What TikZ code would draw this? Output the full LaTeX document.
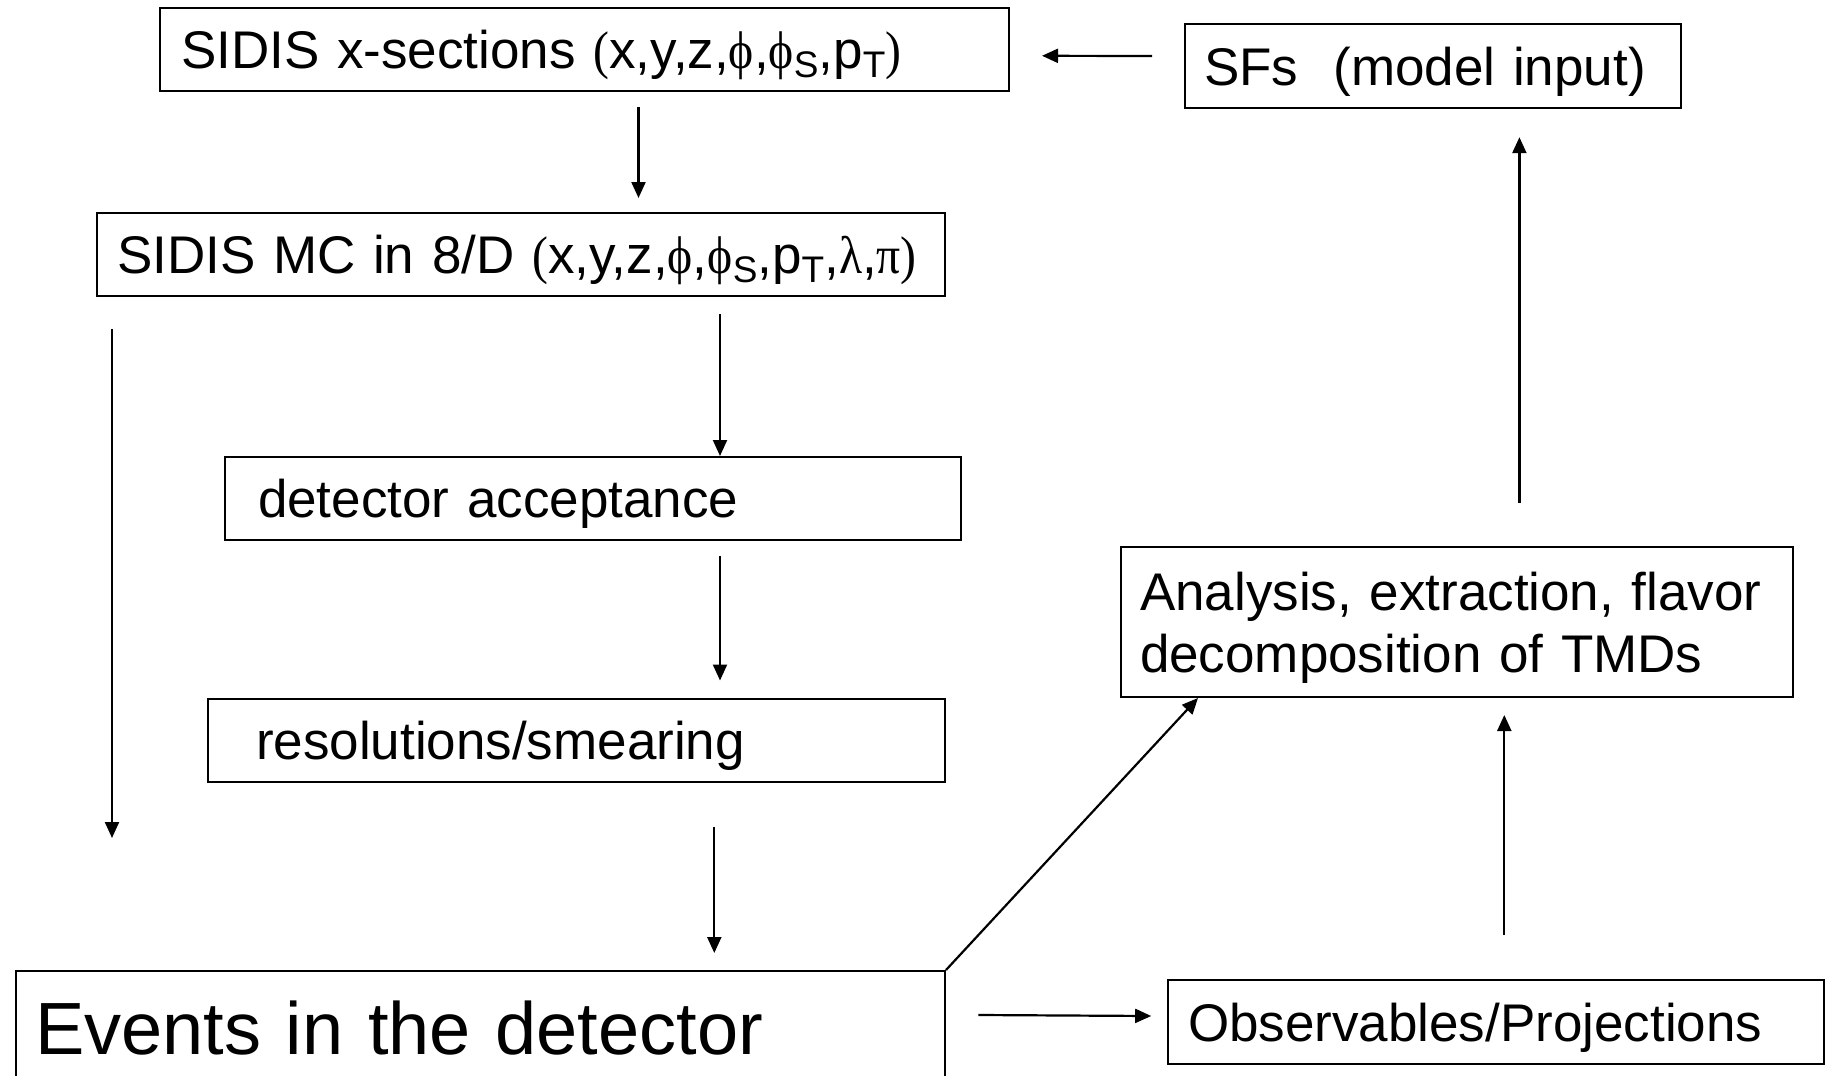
\documentclass[tikz,border=0pt]{standalone}
\usepackage{fontspec}
\setmainfont{Liberation Sans}
\newfontfamily\grk[FakeStretch=0.9]{Liberation Serif}
\usetikzlibrary{arrows.meta,calc}

% lowered, smaller index letter (S, T)
\newcommand\lowidx[1]{\raisebox{-4.5pt}{\fontsize{18.5}{18.5}\selectfont #1}}

\begin{document}
\begin{tikzpicture}[x=0.5pt,y=-0.5pt,
  box/.style={draw, line width=1pt, anchor=north west, inner ysep=0pt,
    align=left, font=\fontsize{26.5}{31}\selectfont,
    text height=19pt, text depth=0pt},
  bigbox/.style={box, font=\fontsize{37}{44}\selectfont, text height=26.5pt},
  flow/.style={-{Triangle[length=8pt,width=7pt]}, line width=1.1pt}]
\useasboundingbox (0,0) rectangle (1827,1076);

% process boxes (sizes in pt = half the pixel size)
\node[box, minimum width=424.5pt, minimum height=41.5pt, inner xsep=10.5pt, text width=403.5pt]
  (xsec) at (159,7) {\mbox{SIDIS x-sections {\grk(}x,y,z,{\grk ϕ},{\grk ϕ}\lowidx{S},p\lowidx{T}{\grk)}}};
\node[box, minimum width=424pt, minimum height=41.5pt, inner xsep=10pt, text width=404pt]
  (mc) at (96,212) {\mbox{SIDIS MC in 8/D {\grk(}x,y,z,{\grk ϕ},{\grk ϕ}\lowidx{S},p\lowidx{T},{\grk λ},{\grk π}{\grk)}}};
\node[box, minimum width=368pt, minimum height=41.5pt, inner xsep=16.5pt, text width=335pt]
  (acc) at (224,456) {detector acceptance};
\node[box, minimum width=368.5pt, minimum height=41.5pt, inner xsep=24pt, text width=320.5pt]
  (res) at (207,698) {resolutions/smearing};
\node[bigbox, minimum width=464.5pt, minimum height=56.5pt, inner xsep=9.5pt, text width=445.5pt]
  (ev) at (15,970) {Events in the detector};
\node[box, minimum width=248pt, minimum height=42pt, inner xsep=9.5pt, text width=229pt]
  (sf) at (1184,23) {SFs\ \ (model input)};
\node[box, minimum width=336pt, minimum height=75pt, inner xsep=9.5pt, text width=317pt,
  text depth=31pt]
  (ana) at (1120,546) {Analysis, extraction, flavor\\decomposition of TMDs};
\node[box, minimum width=328pt, minimum height=42pt, inner xsep=10pt, text width=308pt]
  (obs) at (1167,979) {Observables/Projections};

% connectors
\draw[flow] ($(sf.west)+(-32,-10)$) -- ($(xsec.east)+(32,6.3)$);
\draw[flow] ($(xsec.south west)+(479.5,15)$) -- ($(mc.north west)+(542.5,-14)$);
\draw[flow] ($(mc.south west)+(624,17)$) -- ($(acc.north west)+(496,0)$);
\draw[flow] ($(acc.south west)+(496,14.5)$) -- ($(res.north west)+(513,-17.5)$);
\draw[flow] ($(res.south west)+(507.3,44)$) -- ($(ev.north west)+(699.3,-17)$);
\coordinate (mcdrop) at (112,838);
\draw[flow] ($(mc.south west)+(16,32.4)$) -- (mcdrop);
\draw[flow] ($(ev.north east)+(32.4,45)$) -- ($(obs.west)+(-15.8,-6)$);
\draw[flow] (ev.north east) -- ($(ana.south west)+(78,0)$);
\draw[flow] ($(obs.north west)+(337.3,-44.5)$) -- ($(ana.south west)+(384.3,17)$);
\draw[flow] ($(ana.north west)+(399.4,-42.6)$) -- ($(sf.south west)+(335.4,28.2)$);
\end{tikzpicture}
\end{document}
